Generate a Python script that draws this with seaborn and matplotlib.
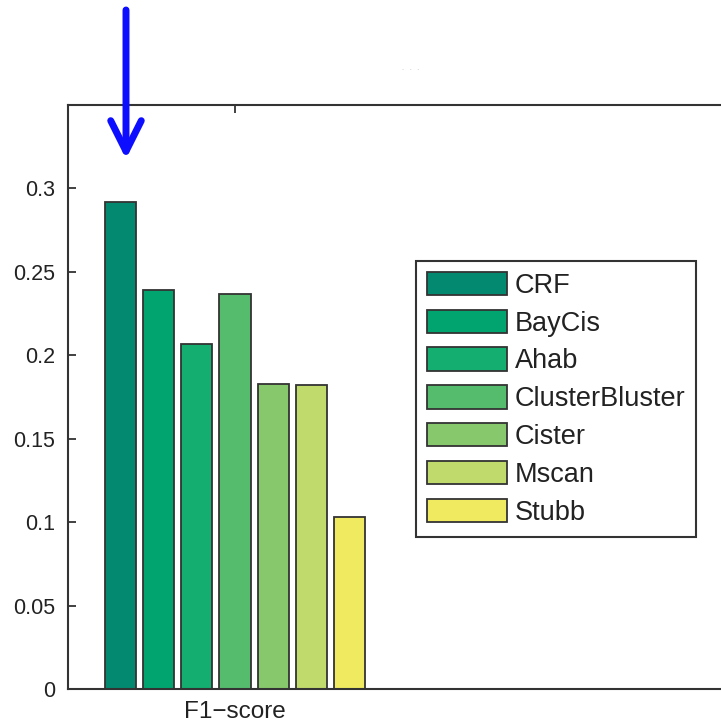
import matplotlib
matplotlib.use("Agg")
import matplotlib.pyplot as plt
from matplotlib.patches import Patch
import pandas as pd
import seaborn as sns

# F1-score of each cis-regulatory module predictor
metrics = ["F1\u2212score"]
methods = ["CRF", "BayCis", "Ahab", "ClusterBluster", "Cister", "Mscan", "Stubb"]
f1_scores = [0.292, 0.239, 0.207, 0.237, 0.183, 0.182, 0.103]
bar_colors = ["#02896f", "#01a46f", "#14ae70", "#55bc6e", "#88c86c",
              "#c1da6c", "#f0ea60"]
y_ticks = [0, 0.05, 0.1, 0.15, 0.2, 0.25, 0.3]
y_tick_labels = ["0", "0.05", "0.1", "0.15", "0.2", "0.25", "0.3"]

df = pd.DataFrame({
    "metric": metrics * len(methods),
    "method": methods,
    "score": f1_scores,
})

sns.set_style("white")
plt.rcParams["font.family"] = ["Liberation Sans", "DejaVu Sans"]
plt.rcParams["text.color"] = "#222222"

W, H = 721, 724
fig = plt.figure(figsize=(W / 100, H / 100), dpi=100)
ax = fig.add_axes([68 / W, 1 - 689 / H, 668 / W, (689 - 105) / H])

edge = "#333333"
sns.barplot(data=df, x="metric", y="score", hue="method", hue_order=methods,
            palette=bar_colors, saturation=1, width=0.8, gap=0.186,
            edgecolor=edge, linewidth=1.3, legend=False, ax=ax)

ax.set_xlim(-0.5, 1.5)
ax.set_ylim(0, 0.35)
ax.set_yticks(y_ticks)
ax.set_yticklabels(y_tick_labels)
ax.set_xlabel("")
ax.set_ylabel("")

for side in ["left", "top", "bottom"]:
    ax.spines[side].set_visible(True)
    ax.spines[side].set_color(edge)
    ax.spines[side].set_linewidth(1.5)
ax.spines["right"].set_visible(False)

ax.tick_params(axis="y", direction="in", length=6, width=1.3, color=edge,
               labelsize=15.5, pad=9, left=True, labelcolor="#222222")
ax.tick_params(axis="x", direction="in", length=6, width=1.3, color=edge,
               labelsize=17.5, pad=9, top=True, bottom=True,
               labelcolor="#222222")

handles = [Patch(facecolor=c, edgecolor=edge, linewidth=1.3, label=m)
           for m, c in zip(methods, bar_colors)]
leg = ax.legend(handles=handles, loc="upper left",
                bbox_to_anchor=(416 / W, 1 - 261 / H),
                bbox_transform=fig.transFigure, borderaxespad=0,
                fontsize=19.5, frameon=True, fancybox=False,
                handlelength=2.95, handleheight=0.95, handletextpad=0.3,
                labelspacing=0.4, borderpad=0.4)
leg.get_frame().set_edgecolor(edge)
leg.get_frame().set_linewidth(1.5)
leg.get_frame().set_facecolor("white")
leg.get_frame().set_alpha(1)

# faint trace of a title above the axes
fig.text(411 / W, 1 - 70 / H, "\u00b7 \u00b7 \u00b7", color="#d6d6d6",
         fontsize=9, ha="center", va="center")

# blue pointer marking the best method
ax.annotate("", xy=(126, H - 159), xytext=(126, H - 10),
            xycoords="figure pixels", textcoords="figure pixels",
            annotation_clip=False,
            arrowprops=dict(arrowstyle="->,head_length=2.2,head_width=1.1",
                            color="#0d0dff", lw=5, shrinkA=0, shrinkB=0,
                            mutation_scale=10, joinstyle="round",
                            capstyle="round"))

fig.savefig("out.png", dpi=100)
